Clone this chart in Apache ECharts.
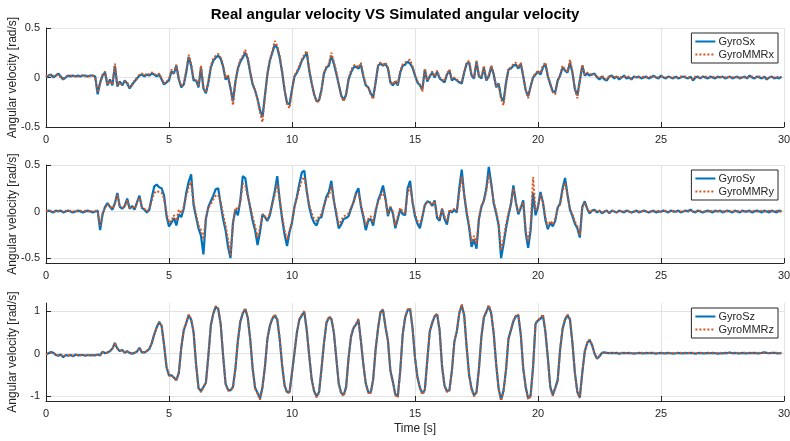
<!DOCTYPE html>
<html><head><meta charset="utf-8">
<script src="https://cdn.jsdelivr.net/npm/echarts@6/dist/echarts.min.js"></script>
<style>html,body{margin:0;padding:0;background:#fff}#c{width:790px;height:441px}</style>
</head><body><div id="c"></div>
<script>
// Sampling step of the recordings: 0.1 s, 300 samples (0 .. 29.9 s)
const titleText = 'Real angular velocity VS Simulated angular velocity';
const yLabel = 'Angular velocity [rad/s]';
const xLabel = 'Time [s]';
const xTicks = [0, 5, 10, 15, 20, 25, 30];
const yTicks1 = [-0.5, 0, 0.5];
const yTicks2 = [-0.5, 0, 0.5];
const yTicks3 = [-1, 0, 1];
const names1 = ['GyroSx', 'GyroMMRx'];
const names2 = ['GyroSy', 'GyroMMRy'];
const names3 = ['GyroSz', 'GyroMMRz'];

const gyroSx = [
0.00,0.02,0.03,0.00,0.02,0.04,0.01,-0.02,0.00,0.02,
0.01,0.02,0.01,0.02,0.01,0.02,0.02,0.01,0.02,0.02,
0.01,-0.17,-0.05,0.02,0.05,-0.08,-0.02,-0.08,0.12,-0.09,
-0.04,-0.08,-0.03,-0.06,-0.11,-0.07,-0.04,-0.01,0.02,0.03,
0.01,0.03,0.02,0.04,0.03,0.01,0.03,-0.02,-0.07,-0.05,
-0.03,0.06,0.04,0.12,-0.02,-0.10,-0.07,0.05,0.21,0.12,
-0.03,-0.03,-0.10,0.10,-0.11,-0.16,-0.05,0.10,0.17,0.20,
0.22,0.19,0.11,-0.02,0.01,-0.11,-0.24,-0.04,0.09,0.16,
0.20,0.25,0.19,0.05,-0.07,-0.13,-0.22,-0.33,-0.40,-0.18,
0.03,0.17,0.25,0.33,0.30,0.20,0.05,-0.13,-0.26,-0.27,
-0.12,0.01,0.05,0.10,0.17,0.21,0.25,0.07,-0.06,-0.17,
-0.24,-0.23,-0.12,0.04,0.10,0.12,0.22,0.14,0.04,-0.07,
-0.18,-0.23,-0.17,-0.02,0.05,0.10,0.11,0.09,0.13,0.01,
-0.08,-0.10,-0.16,-0.20,-0.05,0.12,0.14,0.12,0.14,0.09,
-0.05,-0.08,-0.04,-0.08,0.05,0.12,0.13,0.16,0.14,0.10,
0.02,-0.05,-0.08,-0.12,0.08,-0.04,0.01,0.05,0.00,0.06,
-0.01,-0.03,-0.05,0.03,0.07,-0.03,-0.01,-0.03,-0.05,-0.06,
0.05,0.14,0.15,0.02,-0.01,0.16,0.01,-0.01,0.10,-0.03,
0.01,0.11,0.03,-0.10,-0.06,-0.20,-0.24,-0.05,0.08,0.09,
0.12,0.13,0.09,0.14,0.01,-0.13,-0.19,-0.09,0.00,0.03,
0.06,0.03,0.10,0.14,0.01,-0.07,-0.14,-0.15,-0.03,0.02,
0.10,0.07,0.05,0.15,0.05,-0.12,-0.18,-0.03,0.12,0.02,
0.04,0.02,0.03,0.04,0.00,-0.02,0.01,-0.02,-0.03,0.01,
0.02,-0.01,0.01,-0.02,0.00,0.02,-0.01,0.00,-0.02,0.01,
0.00,0.01,-0.01,0.00,0.01,-0.01,0.00,0.02,0.00,-0.01,
0.02,0.00,-0.01,0.01,0.00,-0.01,0.01,-0.01,0.00,0.01,
0.00,-0.01,0.01,-0.03,0.00,0.01,-0.01,0.01,0.00,-0.01,
0.01,0.00,-0.01,0.01,0.00,0.01,-0.01,0.00,0.01,-0.01,
0.00,0.01,-0.01,0.00,0.01,-0.01,0.02,0.00,-0.01,0.01,
0.00,-0.01,0.01,-0.02,0.00,0.01,-0.01,0.00,-0.01,0.01
];
const gyroMMRx = [
0.01,0.03,0.02,0.01,0.03,0.03,0.00,-0.01,0.01,0.02,
0.02,0.01,0.02,0.01,0.02,0.02,0.01,0.02,0.01,0.02,
0.00,-0.15,-0.06,0.03,0.06,-0.07,-0.03,-0.07,0.14,-0.08,
-0.05,-0.07,-0.04,-0.05,-0.10,-0.08,-0.03,0.00,0.03,0.04,
0.02,0.04,0.03,0.05,0.04,0.02,0.04,-0.01,-0.06,-0.04,
-0.02,0.08,0.05,0.13,-0.01,-0.09,-0.06,0.07,0.23,0.14,
-0.01,-0.02,-0.09,0.12,-0.10,-0.15,-0.04,0.12,0.19,0.22,
0.24,0.20,0.12,-0.01,0.03,-0.10,-0.28,-0.06,0.10,0.18,
0.22,0.28,0.20,0.07,-0.06,-0.13,-0.22,-0.35,-0.45,-0.20,
0.04,0.18,0.27,0.37,0.32,0.22,0.07,-0.12,-0.27,-0.31,
-0.14,0.02,0.06,0.12,0.18,0.23,0.27,0.09,-0.05,-0.16,
-0.25,-0.24,-0.13,0.05,0.11,0.14,0.25,0.16,0.06,-0.06,
-0.19,-0.24,-0.18,-0.01,0.07,0.12,0.13,0.10,0.15,0.02,
-0.07,-0.10,-0.17,-0.22,-0.04,0.13,0.15,0.13,0.15,0.10,
-0.04,-0.07,-0.03,-0.07,0.07,0.13,0.15,0.17,0.18,0.11,
0.03,-0.04,-0.07,-0.14,0.09,-0.03,0.02,0.06,0.01,0.07,
0.00,-0.02,-0.04,0.04,0.08,-0.02,0.00,-0.02,-0.04,-0.05,
0.06,0.15,0.17,0.03,0.00,0.17,0.02,0.00,0.12,-0.02,
0.02,0.12,0.04,-0.09,-0.07,-0.22,-0.28,-0.07,0.09,0.10,
0.14,0.15,0.10,0.15,0.02,-0.12,-0.21,-0.10,0.01,0.04,
0.07,0.04,0.12,0.15,0.02,-0.06,-0.15,-0.17,-0.04,0.03,
0.12,0.08,0.06,0.18,0.06,-0.11,-0.21,-0.04,0.13,0.03,
0.05,0.03,0.04,0.03,0.01,-0.01,0.02,-0.01,-0.02,0.02,
0.01,0.00,0.02,-0.01,0.01,0.01,0.00,0.01,-0.01,0.00,
0.01,0.00,0.00,0.01,0.00,0.00,0.01,0.01,0.01,0.00,
0.01,0.01,0.00,0.00,0.01,0.00,0.00,0.00,0.01,0.00,
0.01,0.00,0.00,-0.02,0.01,0.00,0.00,0.01,0.01,0.00,
0.00,0.01,0.00,0.00,0.01,0.00,0.00,0.01,0.00,0.00,
0.01,0.00,0.00,0.01,0.00,0.00,0.01,0.01,0.00,0.00,
0.01,0.00,0.00,-0.01,0.01,0.00,0.00,0.01,0.00,0.00
];
const gyroSy = [
0.00,0.01,0.00,-0.01,0.01,0.00,0.01,-0.01,0.00,0.01,
0.00,-0.01,0.00,0.01,0.00,-0.01,0.00,0.01,0.00,-0.01,
0.00,0.01,-0.20,-0.03,0.05,0.09,0.05,0.02,0.09,0.20,
0.05,0.03,0.06,0.14,0.03,0.06,0.02,0.10,0.17,0.04,
0.02,-0.01,0.02,0.15,0.27,0.29,0.26,0.25,0.17,-0.05,
-0.16,-0.12,-0.07,-0.15,-0.03,-0.06,0.03,0.20,0.32,0.40,
0.07,-0.06,-0.18,-0.26,-0.46,-0.08,0.05,0.11,0.17,0.24,
0.25,0.08,-0.08,-0.20,-0.38,-0.50,-0.12,0.02,-0.04,0.12,
0.38,0.36,0.18,0.04,-0.10,-0.20,-0.36,-0.22,-0.03,-0.06,
-0.10,-0.04,0.09,0.22,0.38,0.12,-0.08,-0.25,-0.37,-0.22,
-0.12,0.05,0.16,0.30,0.42,0.44,0.22,0.05,-0.06,-0.12,
-0.15,-0.07,-0.06,0.06,0.16,0.21,0.33,0.12,-0.03,-0.18,
-0.14,-0.08,-0.07,-0.05,0.03,0.10,0.20,0.25,0.06,-0.06,
-0.20,-0.10,-0.08,-0.15,0.00,0.12,0.19,0.28,0.14,-0.05,
0.05,-0.02,-0.18,-0.08,0.02,-0.03,-0.04,0.25,0.33,0.10,
-0.05,-0.13,-0.18,-0.06,0.07,0.11,0.10,0.06,0.12,-0.07,
-0.10,0.03,-0.08,-0.14,0.01,-0.01,0.02,-0.01,0.25,0.45,
0.18,-0.02,-0.17,-0.38,-0.30,-0.40,-0.08,0.05,0.12,0.25,
0.48,0.30,0.09,-0.02,-0.15,-0.50,-0.35,-0.18,-0.04,0.08,
0.28,0.10,-0.03,0.04,0.12,-0.23,-0.39,-0.20,0.20,-0.04,
0.05,0.21,0.10,-0.09,-0.19,-0.12,-0.16,-0.10,0.04,0.09,
0.25,0.36,0.18,0.02,-0.05,-0.13,-0.18,-0.28,0.05,0.11,
0.03,-0.02,0.01,0.02,-0.01,0.01,-0.02,0.00,0.01,-0.02,
0.01,0.00,-0.01,0.01,0.00,-0.01,0.01,0.00,-0.01,0.00,
0.01,-0.01,0.00,0.01,0.00,-0.01,0.00,0.01,-0.01,0.00,
0.00,0.01,0.00,-0.01,0.01,0.00,0.00,0.01,-0.01,0.00,
0.01,0.00,0.02,0.00,-0.01,0.01,0.00,-0.01,0.00,0.01,
0.00,-0.01,0.01,0.00,0.01,-0.01,0.00,0.01,0.00,-0.01,
0.01,0.00,-0.01,0.01,0.00,0.00,0.01,-0.01,0.00,0.01,
0.00,-0.01,0.01,0.00,-0.01,0.01,0.00,-0.01,0.01,0.00
];
const gyroMMRy = [
0.01,0.00,0.01,0.00,0.00,0.01,0.00,0.00,0.01,0.00,
0.01,0.00,0.01,0.00,0.01,0.00,0.01,0.00,0.01,0.00,
0.01,0.00,-0.15,-0.02,0.04,0.08,0.06,0.03,0.08,0.18,
0.06,0.04,0.05,0.12,0.04,0.05,0.03,0.09,0.15,0.05,
0.03,0.00,0.03,0.12,0.20,0.22,0.21,0.20,0.14,-0.02,
-0.12,-0.10,-0.04,-0.10,0.02,-0.02,0.05,0.17,0.26,0.32,
0.10,-0.03,-0.15,-0.20,-0.30,-0.06,0.04,0.08,0.13,0.17,
0.18,0.10,-0.03,-0.15,-0.30,-0.48,-0.14,0.04,0.02,0.10,
0.30,0.28,0.16,0.06,-0.06,-0.16,-0.28,-0.18,-0.03,-0.05,
-0.08,-0.02,0.08,0.18,0.30,0.14,-0.05,-0.20,-0.30,-0.20,
-0.10,0.05,0.14,0.25,0.34,0.37,0.22,0.07,-0.02,-0.08,
-0.10,-0.05,-0.03,0.06,0.14,0.17,0.28,0.12,0.00,-0.15,
-0.10,-0.05,-0.04,-0.02,0.04,0.10,0.18,0.20,0.08,-0.03,
-0.15,-0.08,-0.05,-0.12,0.02,0.10,0.16,0.22,0.12,-0.03,
0.05,0.00,-0.15,-0.05,0.04,0.00,-0.02,0.20,0.27,0.10,
-0.02,-0.10,-0.14,-0.04,0.07,0.10,0.09,0.07,0.11,-0.05,
-0.08,0.03,-0.05,-0.11,0.02,0.00,0.03,0.01,0.20,0.38,
0.18,0.01,-0.14,-0.33,-0.26,-0.35,-0.06,0.06,0.11,0.22,
0.40,0.28,0.10,0.00,-0.12,-0.42,-0.30,-0.14,-0.02,0.08,
0.25,0.10,-0.01,0.05,0.10,-0.20,-0.33,-0.15,0.37,0.00,
0.06,0.18,0.10,-0.06,-0.16,-0.10,-0.14,-0.08,0.04,0.08,
0.22,0.31,0.17,0.03,-0.03,-0.11,-0.16,-0.25,0.04,0.10,
0.03,-0.01,0.01,0.01,0.00,0.01,-0.01,0.00,0.01,-0.01,
0.00,0.01,-0.01,0.00,0.01,0.00,0.00,0.01,-0.01,0.00,
0.00,0.00,0.01,0.00,0.00,-0.01,0.01,0.00,0.00,0.01,
0.00,0.00,0.01,0.00,0.00,0.01,0.00,0.00,0.00,0.01,
0.00,0.01,0.01,0.00,0.00,0.00,0.01,0.00,0.00,0.00,
0.01,0.00,0.00,0.01,0.00,0.00,0.01,0.00,0.00,0.01,
0.00,0.00,0.01,0.00,0.00,0.01,0.00,0.00,0.01,0.00,
0.00,0.01,0.00,0.00,0.01,0.00,0.00,0.01,0.00,0.00
];
const gyroSz = [
-0.02,0.01,0.04,0.02,-0.03,-0.05,-0.02,-0.08,-0.03,-0.05,
-0.03,-0.06,-0.02,-0.04,-0.03,-0.03,-0.05,-0.03,-0.04,-0.03,
-0.04,-0.02,-0.04,0.05,0.01,0.03,0.06,0.12,0.25,0.12,
0.06,0.09,0.02,0.06,0.02,0.00,0.02,0.05,0.14,0.03,
0.03,0.06,0.11,0.25,0.45,0.62,0.74,0.65,0.20,-0.32,
-0.51,-0.51,-0.56,-0.62,-0.45,0.15,0.55,0.72,0.90,0.80,
0.50,-0.25,-0.80,-0.88,-0.78,-0.68,-0.05,0.66,0.94,1.10,
1.05,0.70,-0.05,-0.70,-0.85,-0.86,-0.78,-0.35,0.30,0.75,
0.95,1.05,0.85,0.35,-0.35,-0.80,-0.92,-1.05,-0.78,-0.31,
0.35,0.65,0.82,0.90,0.80,0.35,-0.28,-0.75,-0.90,-0.90,
-0.45,0.02,0.50,0.80,0.90,0.98,0.55,-0.05,-0.60,-0.88,
-1.00,-0.90,-0.35,0.25,0.72,0.85,0.82,0.50,-0.10,-0.70,
-0.92,-0.97,-0.78,-0.10,0.40,0.60,0.68,0.80,0.30,-0.25,
-0.70,-0.90,-0.92,-0.60,0.10,0.60,0.98,1.02,0.63,0.30,
-0.40,-0.66,-0.95,-1.00,-0.40,0.45,0.85,1.02,1.05,0.60,
-0.10,-0.55,-0.80,-0.93,-0.85,-0.15,0.52,0.72,0.88,0.92,
0.55,-0.30,-0.75,-0.88,-0.85,-0.40,0.28,0.52,0.95,1.14,
0.90,0.15,-0.50,-0.82,-0.98,-0.90,-0.35,0.40,0.85,0.98,
1.12,0.94,0.47,-0.25,-0.82,-1.08,-0.86,-0.38,0.35,0.55,
0.76,0.88,0.90,0.45,-0.35,-0.78,-1.05,-0.98,-0.31,0.70,
0.78,0.82,0.90,0.52,-0.10,-0.78,-0.97,-0.80,-0.62,0.10,
0.58,0.80,0.90,0.80,0.25,-0.45,-0.90,-1.02,-0.45,0.05,
0.25,0.32,0.20,0.00,-0.12,-0.06,0.02,0.03,0.02,0.01,
0.02,0.01,0.02,0.00,0.01,0.02,0.01,0.02,0.01,0.00,
0.01,0.02,0.01,0.01,0.02,0.01,0.02,0.01,0.00,0.01,
0.02,0.01,0.01,0.02,0.01,0.00,0.01,0.02,0.01,0.01,
0.02,0.01,0.02,0.01,0.00,0.01,0.02,0.01,0.01,0.02,
0.01,0.02,0.01,0.00,0.01,0.01,0.02,0.01,0.03,0.01,
0.02,0.01,0.01,0.02,0.01,0.01,0.02,0.01,0.02,0.01,
0.01,0.02,0.03,0.02,0.01,0.02,0.02,0.01,0.01,0.02
];
const gyroMMRz = [
-0.01,0.00,0.03,0.02,-0.02,-0.04,-0.03,-0.07,-0.04,-0.04,
-0.03,-0.05,-0.03,-0.03,-0.04,-0.03,-0.04,-0.03,-0.03,-0.04,
-0.03,-0.03,-0.03,0.04,0.02,0.03,0.07,0.11,0.26,0.13,
0.07,0.08,0.03,0.05,0.03,0.01,0.02,0.06,0.13,0.04,
0.03,0.07,0.12,0.26,0.46,0.63,0.75,0.66,0.22,-0.30,
-0.52,-0.50,-0.57,-0.63,-0.44,0.16,0.56,0.74,0.92,0.81,
0.52,-0.24,-0.82,-0.90,-0.77,-0.70,-0.04,0.67,0.96,1.12,
1.06,0.71,-0.04,-0.72,-0.87,-0.85,-0.80,-0.34,0.31,0.77,
0.96,1.07,0.86,0.36,-0.34,-0.82,-0.94,-1.08,-0.80,-0.30,
0.36,0.66,0.84,0.92,0.82,0.36,-0.27,-0.77,-0.92,-0.91,
-0.44,0.03,0.51,0.82,0.92,1.00,0.56,-0.04,-0.62,-0.90,
-1.03,-0.92,-0.34,0.26,0.74,0.87,0.84,0.51,-0.09,-0.72,
-0.94,-0.99,-0.80,-0.09,0.41,0.62,0.70,0.82,0.31,-0.24,
-0.72,-0.92,-0.94,-0.61,0.11,0.62,1.00,1.04,0.64,0.31,
-0.39,-0.68,-0.97,-1.03,-0.41,0.46,0.87,1.04,1.07,0.61,
-0.09,-0.57,-0.82,-0.95,-0.87,-0.14,0.53,0.74,0.90,0.94,
0.56,-0.29,-0.77,-0.90,-0.87,-0.39,0.29,0.54,0.97,1.16,
0.91,0.16,-0.52,-0.84,-1.00,-0.92,-0.34,0.41,0.87,1.00,
1.14,0.95,0.48,-0.24,-0.84,-1.10,-0.88,-0.37,0.36,0.57,
0.78,0.90,0.92,0.46,-0.34,-0.80,-1.07,-1.00,-0.30,0.72,
0.80,0.84,0.92,0.53,-0.09,-0.80,-0.99,-0.82,-0.63,0.11,
0.60,0.82,0.92,0.81,0.26,-0.46,-0.92,-1.04,-0.44,0.06,
0.26,0.33,0.21,0.01,-0.11,-0.05,0.02,0.02,0.01,0.02,
0.01,0.02,0.01,0.01,0.02,0.01,0.02,0.01,0.02,0.01,
0.02,0.01,0.02,0.01,0.01,0.02,0.01,0.02,0.01,0.02,
0.01,0.02,0.01,0.01,0.02,0.01,0.02,0.01,0.02,0.01,
0.01,0.02,0.01,0.02,0.01,0.02,0.01,0.02,0.01,0.01,
0.02,0.01,0.02,0.01,0.02,0.01,0.01,0.02,0.02,0.01,
0.01,0.02,0.01,0.01,0.02,0.02,0.01,0.02,0.01,0.02,
0.02,0.01,0.02,0.02,0.01,0.01,0.02,0.02,0.01,0.01
];

const time = gyroSx.map((_, i) => +(i * 0.1).toFixed(1));
const pairs = arr => arr.map((v, i) => [time[i], v]);

const FONT = '"Liberation Sans", Arial, Helvetica, sans-serif';
const AX = '#262626';
const BLUE = '#0072BD';
const ORANGE = '#D95319';

const grids = [
  {left: 46, top: 28, width: 738, height: 99, containLabel: false, outerBoundsMode: 'none'},
  {left: 46, top: 165, width: 738, height: 98, containLabel: false, outerBoundsMode: 'none'},
  {left: 46, top: 303, width: 738, height: 98, containLabel: false, outerBoundsMode: 'none'}
];
const yRanges = [[-0.5, 0.5], [-0.553, 0.5], [-1.11, 1.19]];
const yTickSets = [yTicks1, yTicks2, yTicks3];
const legendTops = [33, 170, 308];
const nameSets = [names1, names2, names3];
const dataSets = [[gyroSx, gyroMMRx], [gyroSy, gyroMMRy], [gyroSz, gyroMMRz]];

const xAxis = grids.map((g, i) => ({
  type: 'value', gridIndex: i, min: 0, max: 30,
  axisLabel: {customValues: xTicks, color: AX, fontSize: 11, fontFamily: FONT, margin: 7},
  axisTick: {customValues: xTicks, inside: true, length: 5, lineStyle: {color: AX}},
  axisLine: {onZero: false, lineStyle: {color: AX, width: 1}},
  splitLine: {show: true, lineStyle: {color: '#e3e3e3', width: 1}},
  name: i === 2 ? xLabel : '', nameLocation: 'middle', nameGap: 22, nameMoveOverlap: false,
  nameTextStyle: {color: AX, fontSize: 12, fontFamily: FONT}
}));
const yAxis = grids.map((g, i) => ({
  type: 'value', gridIndex: i, min: yRanges[i][0], max: yRanges[i][1],
  axisLabel: {customValues: yTickSets[i], color: AX, fontSize: 11, fontFamily: FONT, margin: 6,
    formatter: v => String(v)},
  axisTick: {customValues: yTickSets[i], inside: true, length: 5, lineStyle: {color: AX}},
  axisLine: {show: true, onZero: false, lineStyle: {color: AX, width: 1}},
  splitLine: {show: true, lineStyle: {color: '#e3e3e3', width: 1}},
  name: yLabel, nameLocation: 'middle', nameGap: 27, nameMoveOverlap: false,
  nameTextStyle: {color: AX, fontSize: 12, fontFamily: FONT}
}));

const series = [];
dataSets.forEach((ds, i) => {
  series.push({
    type: 'line', name: nameSets[i][0], xAxisIndex: i, yAxisIndex: i,
    data: pairs(ds[0]), symbol: 'none', showSymbol: false,
    lineStyle: {color: BLUE, width: 2.2}, itemStyle: {color: BLUE}, z: 2
  });
  series.push({
    type: 'line', name: nameSets[i][1], xAxisIndex: i, yAxisIndex: i,
    data: pairs(ds[1]), symbol: 'none', showSymbol: false,
    lineStyle: {color: ORANGE, width: 2, type: [2, 2]}, itemStyle: {color: ORANGE}, z: 3
  });
});

const legend = nameSets.map((ns, i) => ({
  data: ns, orient: 'vertical', right: 12, top: legendTops[i],
  backgroundColor: '#fff', borderColor: AX, borderWidth: 1, borderRadius: 0,
  padding: [3, 4, 3, 3], itemGap: 2, itemWidth: 20, itemHeight: 11,
  itemStyle: {opacity: 0, borderWidth: 0},
  textStyle: {color: AX, fontSize: 11, fontFamily: FONT, padding: [0, 0, 0, -2]},
  selectedMode: false
}));

const chart = echarts.init(document.getElementById('c'), null, {renderer: 'canvas'});
chart.setOption({
  animation: false,
  backgroundColor: '#fff',
  title: {text: titleText, left: 'center', top: 2,
    textStyle: {fontSize: 15, fontWeight: 'bold', color: '#000', fontFamily: FONT}},
  grid: grids,
  xAxis, yAxis, series, legend
});
</script></body></html>
